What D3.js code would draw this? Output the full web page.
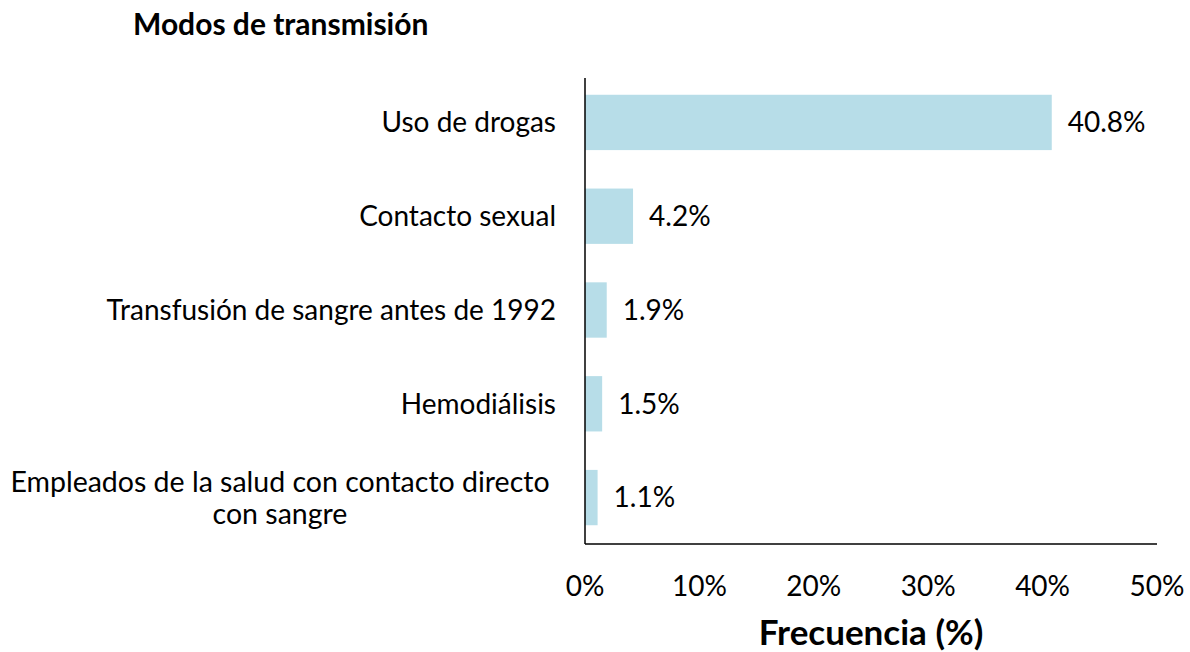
<!DOCTYPE html>
<html>
<head>
<meta charset="utf-8">
<script src="https://cdn.jsdelivr.net/npm/d3@7"></script>
<style>
  body { margin: 0; background: #fff; }
  text { font-family: Lato, "Open Sans", sans-serif; fill: #000; }
</style>
</head>
<body>
<script>
// Data
const categories = [
  ["Uso de drogas"],
  ["Contacto sexual"],
  ["Transfusión de sangre antes de 1992"],
  ["Hemodiálisis"],
  ["Empleados de la salud con contacto directo", "con sangre"]
];
const values = [40.8, 4.2, 1.9, 1.5, 1.1];
const ticks = [0, 10, 20, 30, 40, 50];

let width = 1190, height = 652;
let margin = { top: 76, bottom: 108, left: 585, right: 33 };

let svg = d3.select('body')
    .append('svg')
    .attr('width', width)
    .attr('height', height);

// Scales
let xScale = d3.scaleLinear()
    .domain([0, 50])
    .range([margin.left, width - margin.right]);

let yScale = d3.scaleBand()
    .domain(d3.range(values.length))
    .range([margin.top, height - margin.bottom])
    .paddingInner(0.41)
    .paddingOuter(0.2);

// Bars
svg.selectAll('rect.bar')
    .data(values)
    .enter()
    .append('rect')
    .attr('class', 'bar')
    .attr('x', xScale(0))
    .attr('y', (d, i) => yScale(i))
    .attr('width', d => xScale(d) - xScale(0))
    .attr('height', yScale.bandwidth())
    .attr('fill', '#b7dde8');

// Value labels
svg.selectAll('text.val')
    .data(values)
    .enter()
    .append('text')
    .attr('class', 'val')
    .attr('x', d => xScale(d) + 16)
    .attr('y', (d, i) => yScale(i) + yScale.bandwidth() / 2)
    .attr('dy', '0.35em')
    .style('font-size', '28px')
    .text(d => d.toFixed(1) + '%');

// Category labels
categories.forEach((lines, i) => {
  let cy = yScale(i) + yScale.bandwidth() / 2;
  let t = svg.append('text')
      .attr('text-anchor', lines.length === 1 ? 'end' : 'middle')
      .style('font-size', lines.length === 1 ? '28px' : '28.5px');
  let lh = 32;
  let y0 = cy - (lines.length - 1) * lh / 2;
  lines.forEach((line, j) => {
    t.append('tspan')
        .attr('x', lines.length === 1 ? margin.left - 29 : 280)
        .attr('y', y0 + j * lh)
        .attr('dy', '0.35em')
        .text(line);
  });
});

// Axes (lines only, no ticks)
svg.append('line')
    .attr('x1', xScale(0)).attr('x2', xScale(0))
    .attr('y1', 78).attr('y2', height - margin.bottom)
    .attr('stroke', '#000').attr('stroke-width', 1.5);

svg.append('line')
    .attr('x1', xScale(0)).attr('x2', xScale(50))
    .attr('y1', height - margin.bottom).attr('y2', height - margin.bottom)
    .attr('stroke', '#000').attr('stroke-width', 1.5);

// Tick labels
svg.selectAll('text.tick')
    .data(ticks)
    .enter()
    .append('text')
    .attr('class', 'tick')
    .attr('x', d => xScale(d))
    .attr('y', 596)
    .attr('text-anchor', 'middle')
    .style('font-size', '28px')
    .text(d => d + '%');

// Axis title
svg.append('text')
    .attr('x', (xScale(0) + xScale(50)) / 2)
    .attr('y', 645)
    .attr('text-anchor', 'middle')
    .style('font-size', '35px')
    .style('font-weight', 'bold')
    .text('Frecuencia (%)');

// Chart title
svg.append('text')
    .attr('x', 133)
    .attr('y', 35)
    .style('font-size', '30px')
    .style('font-weight', 'bold')
    .text('Modos de transmisión');
</script>
</body>
</html>
